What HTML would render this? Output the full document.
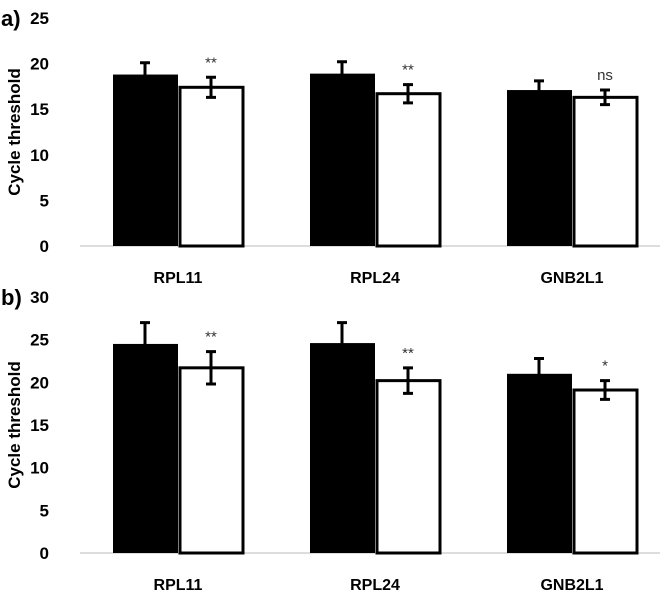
<!DOCTYPE html>
<html><head><meta charset="utf-8"><style>
body{margin:0;background:#fff;}
svg text{font-family:"Liberation Sans",sans-serif;}
</style></head><body>
<svg id="c" width="668" height="594" xmlns="http://www.w3.org/2000/svg"></svg>
<script>
const categories=["RPL11","RPL24","GNB2L1"];
const aBlack=[18.8,18.9,17.1];
const aBlackErr=[1.3,1.3,1.0];
const aWhite=[17.4,16.7,16.3];
const aWhiteErr=[1.1,1.0,0.8];
const aSig=["**","**","ns"];
const aTicks=[0,5,10,15,20,25];
const bBlack=[24.5,24.6,21.0];
const bBlackErr=[2.5,2.4,1.8];
const bWhite=[21.7,20.2,19.1];
const bWhiteErr=[1.9,1.5,1.1];
const bSig=["**","**","*"];
const bTicks=[0,5,10,15,20,25,30];
const svg=document.getElementById('c');
const NS="http://www.w3.org/2000/svg";
function mk(t,a,txt){const e=document.createElementNS(NS,t);for(const k in a)e.setAttribute(k,a[k]);if(txt!==undefined)e.textContent=txt;svg.appendChild(e);return e;}
function panel(p,label,y0,ymaxPix,max,ticks,blk,blkE,wht,whtE,sig){
  const y=v=>y0-(v/max)*(y0-ymaxPix);
  let e=mk('text',{x:1,y:y(max)+8,'font-size':22,'font-weight':'bold'},label);
  
  e=mk('text',{transform:`translate(20,${(y0+ymaxPix)/2}) rotate(-90)`,'text-anchor':'middle','font-size':17,'font-weight':'bold'},'Cycle threshold');
  
  ticks.forEach(t=>{const el=mk('text',{x:49,y:y(t)+6,'text-anchor':'end','font-size':17,'font-weight':'bold'},t);
    });
  e=mk('line',{x1:80,x2:660,y1:y0,y2:y0,stroke:'#bbb','stroke-width':1});
  
  categories.forEach((c,i)=>{
    const bx=113+i*197;
    let r=mk('rect',{x:bx,y:y(blk[i]),width:65,height:y0-y(blk[i]),fill:'#000'});
    
    r=mk('rect',{x:bx+67,y:y(wht[i]),width:63,height:y0-y(wht[i]),fill:'#fff',stroke:'#000','stroke-width':3});
    
    [[bx+32,blk[i],blkE[i]],[bx+98,wht[i],whtE[i]]].forEach(([cx,v,er])=>{
      const g=mk('path',{d:`M${cx},${y(v-er)}V${y(v+er)}M${cx-5},${y(v+er)}H${cx+5}M${cx-5},${y(v-er)}H${cx+5}`,stroke:'#000','stroke-width':3,fill:'none'});
      });
    let s=mk('text',{x:bx+98,y:y(wht[i]+whtE[i])-10,'text-anchor':'middle','font-size':15,fill:'#333'},sig[i]);
    
    s=mk('text',{x:bx+65,y:y0+37,'text-anchor':'middle','font-size':16,'font-weight':'bold'},c);
    
  });
}
panel('a','a)',246,18,25,aTicks,aBlack,aBlackErr,aWhite,aWhiteErr,aSig);
panel('b','b)',553,297,30,bTicks,bBlack,bBlackErr,bWhite,bWhiteErr,bSig);
</script>
</body></html>
